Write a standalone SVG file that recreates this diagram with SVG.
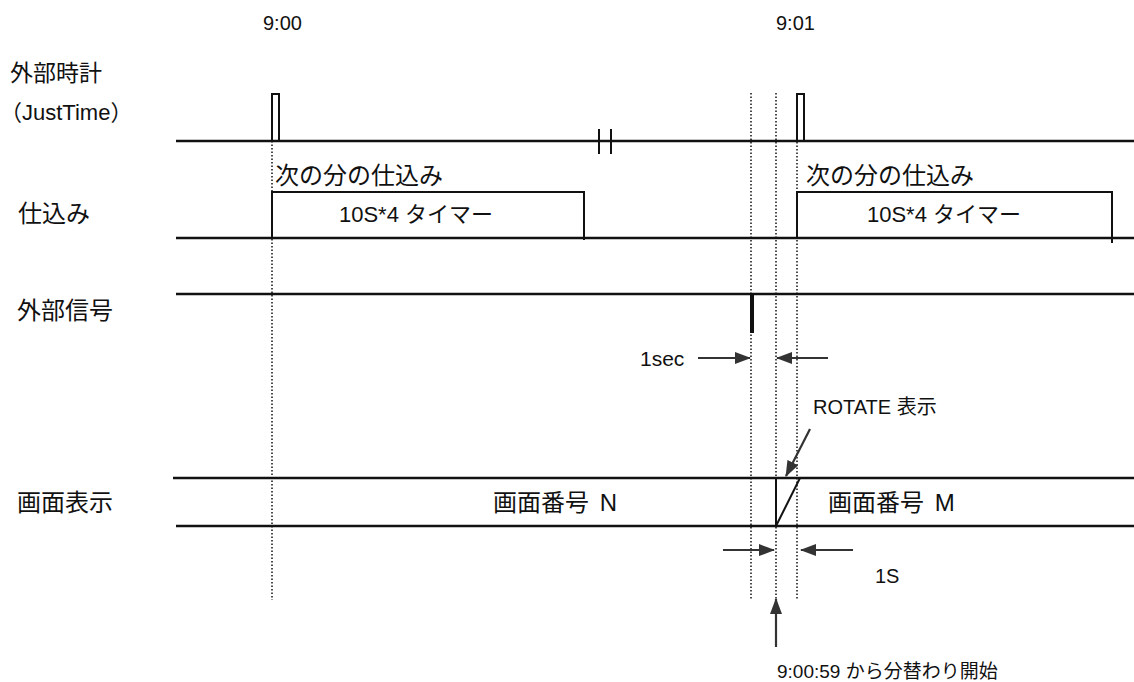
<svg xmlns="http://www.w3.org/2000/svg" width="1134" height="682" viewBox="0 0 1134 682">
<defs>
<marker id="ah" markerWidth="16" markerHeight="12" refX="15" refY="6" orient="auto" markerUnits="userSpaceOnUse">
<path d="M0,0 L16,6 L0,12 Z" fill="#333"/>
</marker>
<style>
text{font-family:"Liberation Sans","Noto Sans CJK JP",sans-serif;fill:#111}
.base{stroke:#111;stroke-width:2.5;fill:none}
.box{stroke:#111;stroke-width:2;fill:none}
.dot{stroke:#111;stroke-width:1.5;stroke-dasharray:1.5 2;fill:none}
.arr{stroke:#333;stroke-width:2.2;fill:none;marker-end:url(#ah)}
</style>
</defs>
<rect width="1134" height="682" fill="#fff"/>
<g id="time-labels">
<text x="263" y="30" font-size="20">9:00</text>
<text x="776" y="30" font-size="20">9:01</text>
</g>
<g id="row-labels">
<text x="10" y="81" font-size="23">外部時計</text>
<text x="0" y="120" font-size="22">（JustTime）</text>
<text x="18" y="222" font-size="24">仕込み</text>
<text x="17" y="319" font-size="24">外部信号</text>
<text x="17" y="511" font-size="24">画面表示</text>
</g>
<g id="guides">
<line class="dot" x1="272" y1="141" x2="272" y2="600"/>
<line class="dot" x1="751" y1="93" x2="751" y2="600"/>
<line class="dot" x1="776" y1="93" x2="776" y2="600"/>
<line class="dot" x1="797" y1="93" x2="797" y2="600"/>
</g>
<g id="justtime">
<line class="base" x1="176" y1="141" x2="1134" y2="141"/>
<path class="box" d="M272,141 V94 H279 V141"/>
<path class="box" d="M797,141 V94 H804 V141"/>
<line class="box" x1="599" y1="129" x2="599" y2="154"/>
<line class="box" x1="611" y1="129" x2="611" y2="154"/>
</g>
<g id="shikomi">
<line class="base" x1="176" y1="238" x2="1134" y2="238"/>
<path class="box" d="M272,238 V192 H584 V240"/>
<path class="box" d="M797,238 V192 H1112 V243"/>
<text x="275" y="184" font-size="24">次の分の仕込み</text>
<text x="416" y="222" font-size="22" text-anchor="middle">10S*4 タイマー</text>
<text x="806" y="184" font-size="24">次の分の仕込み</text>
<text x="944" y="222" font-size="22" text-anchor="middle">10S*4 タイマー</text>
</g>
<g id="external-signal">
<line class="base" x1="176" y1="294" x2="1134" y2="294"/>
<line stroke="#111" stroke-width="4" x1="752" y1="294" x2="752" y2="333"/>
</g>
<g id="display">
<line class="base" x1="173" y1="478" x2="1134" y2="478"/>
<line class="base" x1="176" y1="526" x2="1134" y2="526"/>
<line class="box" x1="776" y1="478" x2="776" y2="526"/>
<line class="box" x1="776" y1="526" x2="800" y2="478"/>
<text x="493" y="511" font-size="24">画面番号 <tspan dx="4">N</tspan></text>
<text x="828" y="511" font-size="24">画面番号 <tspan dx="4">M</tspan></text>
</g>
<g id="connectors">
<line class="arr" x1="698" y1="358" x2="750" y2="358"/>
<line class="arr" x1="828" y1="358" x2="777" y2="358"/>
<line class="arr" x1="810" y1="429" x2="786" y2="476"/>
<line class="arr" x1="723" y1="550" x2="774" y2="550"/>
<line class="arr" x1="853" y1="550" x2="801" y2="550"/>
<line class="arr" x1="776" y1="647" x2="776" y2="599"/>
</g>
<g id="annotations">
<text x="640" y="366" font-size="21">1sec</text>
<text x="813" y="414" font-size="20">ROTATE 表示</text>
<text x="875" y="583" font-size="20">1S</text>
<text x="777" y="678" font-size="19">9:00:59 から分替わり開始</text>
</g>
</svg>
